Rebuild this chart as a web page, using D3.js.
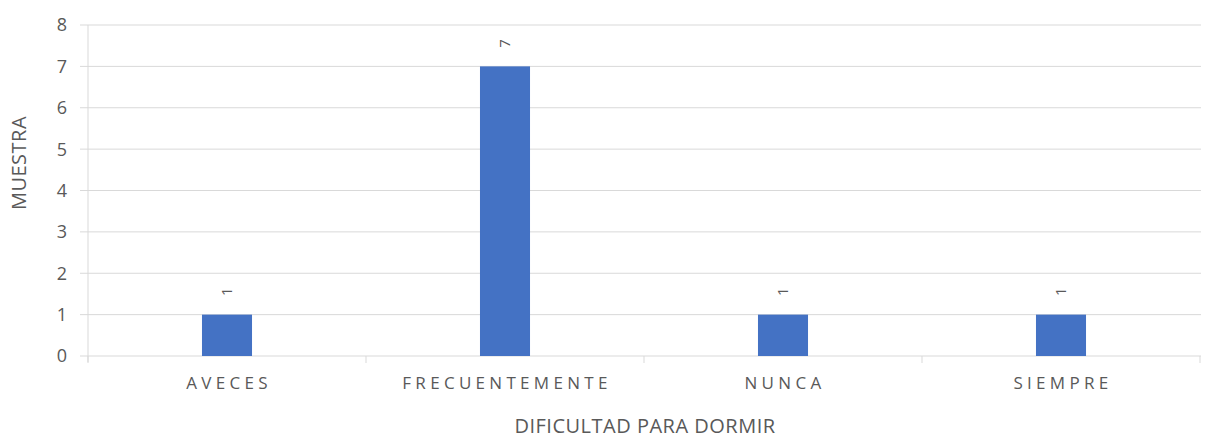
<!DOCTYPE html>
<html>
<head>
<meta charset="utf-8">
<script src="https://cdn.jsdelivr.net/npm/d3@7"></script>
<style>
  body { margin: 0; background: #fff; }
  text { font-family: "Open Sans", sans-serif; fill: #595959; }
</style>
</head>
<body>
<div id="chart"></div>
<script>
const categories = ["AVECES", "FRECUENTEMENTE", "NUNCA", "SIEMPRE"];
const values = [1, 7, 1, 1];
const yTicks = [0, 1, 2, 3, 4, 5, 6, 7, 8];

const width = 1215, height = 440;
const margin = { top: 25, right: 15, bottom: 84, left: 88 };

const svg = d3.select("#chart").append("svg")
  .attr("width", width)
  .attr("height", height);

const x = d3.scaleBand()
  .domain(categories)
  .range([margin.left, width - margin.right])
  .paddingInner(0.82)
  .paddingOuter(0.41);

const y = d3.scaleLinear()
  .domain([0, 8])
  .range([height - margin.bottom, margin.top]);

// gridlines
svg.append("g")
  .selectAll("line")
  .data(yTicks)
  .join("line")
  .attr("x1", margin.left - 8)
  .attr("x2", width - margin.right + 1)
  .attr("y1", d => y(d))
  .attr("y2", d => y(d))
  .attr("stroke", "#d9d9d9")
  .attr("stroke-width", 1);

// y axis line
svg.append("line")
  .attr("x1", margin.left).attr("x2", margin.left)
  .attr("y1", margin.top).attr("y2", y(0) + 6)
  .attr("stroke", "#d9d9d9");

// category tick marks
const edges = d3.range(categories.length + 1).map(i => margin.left + i * x.step());
svg.append("g")
  .selectAll("line")
  .data(edges)
  .join("line")
  .attr("x1", d => d).attr("x2", d => d)
  .attr("y1", y(0)).attr("y2", y(0) + 7)
  .attr("stroke", "#d9d9d9");

// y tick labels
svg.append("g")
  .selectAll("text")
  .data(yTicks)
  .join("text")
  .attr("x", margin.left - 21)
  .attr("y", d => y(d))
  .attr("dy", "0.36em")
  .attr("text-anchor", "end")
  .style("font-size", "18px")
  .text(d => d);

// bars
svg.append("g")
  .selectAll("rect")
  .data(values)
  .join("rect")
  .attr("x", (d, i) => x(categories[i]))
  .attr("y", d => y(d))
  .attr("width", x.bandwidth())
  .attr("height", d => y(0) - y(d))
  .attr("fill", "#4472c4");

// value labels
svg.append("g")
  .selectAll("text")
  .data(values)
  .join("text")
  .attr("transform", (d, i) => `translate(${x(categories[i]) + x.bandwidth() / 2},${y(d) - 23}) rotate(-90)`)
  .attr("text-anchor", "middle")
  .attr("dy", "0.35em")
  .style("font-size", "15px")
  .text(d => d);

// category labels
svg.append("g")
  .selectAll("text")
  .data(categories)
  .join("text")
  .attr("x", d => x(d) + x.bandwidth() / 2 + 2)
  .attr("y", 389)
  .attr("text-anchor", "middle")
  .style("font-size", "17px")
  .style("letter-spacing", "4.3px")
  .text(d => d);

// axis titles
svg.append("text")
  .attr("transform", "translate(19,163) rotate(-90)")
  .attr("text-anchor", "middle")
  .attr("dy", "0.35em")
  .style("font-size", "20px")
  .style("letter-spacing", "0.5px")
  .text("MUESTRA");

svg.append("text")
  .attr("x", 645)
  .attr("y", 433)
  .attr("text-anchor", "middle")
  .style("font-size", "20px")
  .style("letter-spacing", "0.5px")
  .text("DIFICULTAD PARA DORMIR");
</script>
</body>
</html>
